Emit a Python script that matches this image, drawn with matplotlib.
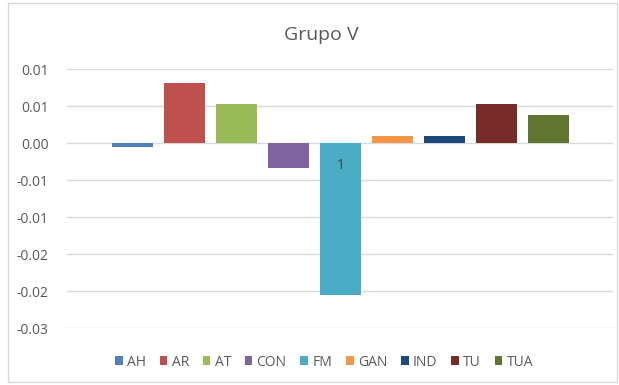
from decimal import Decimal, ROUND_HALF_UP

import matplotlib.pyplot as plt
from matplotlib.patches import Patch, Rectangle
from matplotlib.ticker import FuncFormatter, MultipleLocator

plt.rcParams['font.family'] = ['Open Sans', 'DejaVu Sans']

categories = ["AH", "AR", "AT", "CON", "FM", "GAN", "IND", "TU", "TUA"]
values = [-0.0005, 0.0081, 0.0053, -0.0033, -0.0205, 0.0010, 0.0010, 0.0053, 0.0038]
colors = ["#4F81BD", "#C0504D", "#9BBB59", "#8064A2", "#4BACC6",
          "#F79646", "#1F497D", "#772C2A", "#5F7530"]
label_text = "1"
label_y = -0.003


def fmt_tick(v, pos):
    # two decimals, halves rounded away from zero
    if abs(v) < 1e-9:
        return "0.00"
    d = Decimal(str(round(v, 4))).quantize(Decimal("0.01"), rounding=ROUND_HALF_UP)
    return f"{d}"


fig = plt.figure(figsize=(6.19, 3.85), dpi=100)
ax = fig.add_axes([0.108, 0.147, 0.882, 0.673])

x = range(len(categories))
ax.bar(x, values, width=0.79, color=colors, zorder=3)
ax.text(categories.index("FM"), label_y, label_text, ha="center", va="center",
        fontsize=10, color="#404040", zorder=4)

ax.set_xlim(-1.26, len(categories) - 1 + 1.24)
ax.set_ylim(-0.025, 0.010)
ax.yaxis.set_major_locator(MultipleLocator(0.005))
ax.yaxis.set_major_formatter(FuncFormatter(fmt_tick))
ax.grid(axis="y", color="#D9D9D9", linewidth=1, zorder=0)
ax.set_xticks([])
for s in ax.spines.values():
    s.set_visible(False)
ax.tick_params(axis="y", length=0, pad=13, labelsize=10, labelcolor="#595959")

fig.text(321 / 619, 1 - 35 / 385, "Grupo V", ha="center", va="center",
         fontsize=14, color="#595959")

handles = [Patch(facecolor=c, label=n) for c, n in zip(colors, categories)]
fig.legend(handles=handles, loc="center", bbox_to_anchor=(324 / 619, 1 - 362 / 385),
           ncol=len(categories), frameon=False, fontsize=10, handlelength=0.55,
           handleheight=0.55, handletextpad=0.3, columnspacing=1.0,
           labelcolor="#595959")

# light frame round the chart area
fig.patches.append(Rectangle((8 / 619, 3 / 385), 609 / 619, 379 / 385,
                             transform=fig.transFigure, fill=False,
                             edgecolor="#D9D9D9", linewidth=1))

fig.savefig("out.png", dpi=100, facecolor="white")
